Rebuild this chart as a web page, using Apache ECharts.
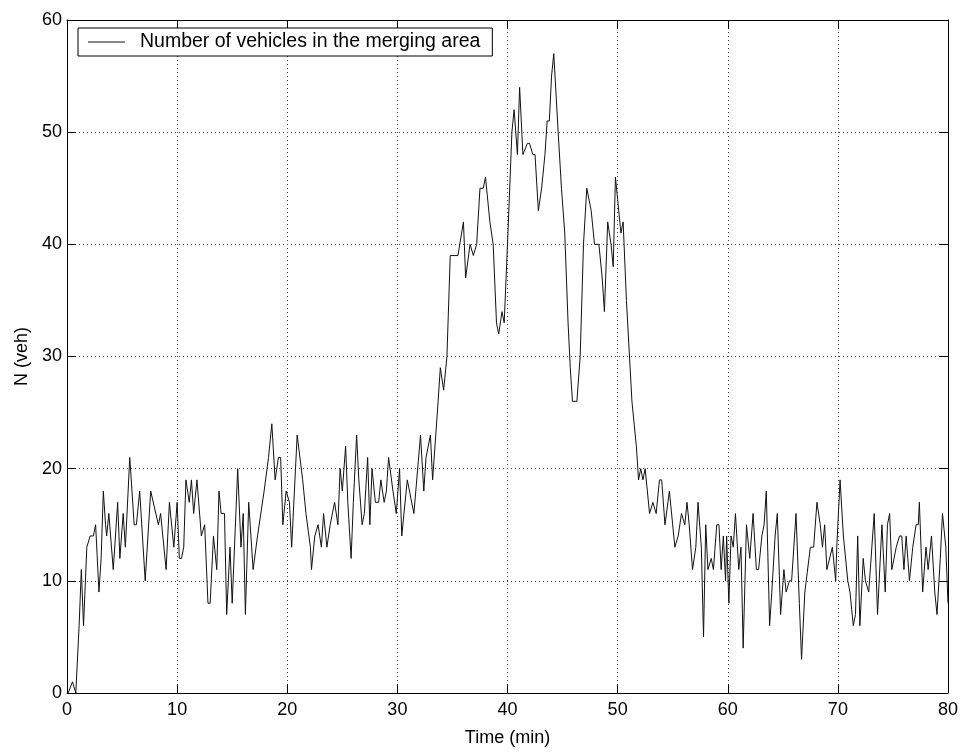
<!DOCTYPE html>
<html>
<head>
<meta charset="utf-8">
<script src="https://cdn.jsdelivr.net/npm/echarts@6/dist/echarts.min.js"></script>
<style>
  html, body { margin: 0; padding: 0; background: #fff; }
  #main { width: 963px; height: 752px; }
</style>
</head>
<body>
<div id="main"></div>
<script>
// time (min) and number of vehicles
var timeMin = [
  0.1, 0.5, 0.8, 1.1, 1.3, 1.5, 1.8, 2.1, 2.4, 2.6, 2.9, 3.1, 3.3, 3.5, 3.6, 3.8, 4.2, 4.6, 4.8, 5.1,
  5.3, 5.7, 6.1, 6.3, 6.6, 7.1, 7.6, 8.3, 8.5, 9.0, 9.3, 9.7, 10.0, 10.2, 10.4, 10.6, 10.8, 11.1, 11.3, 11.5,
  11.8, 12.2, 12.5, 12.8, 13.0, 13.3, 13.6, 13.8, 14.0, 14.3, 14.5, 14.8, 15.0, 15.5, 15.8, 16.0, 16.2, 16.5, 16.9, 17.3,
  17.9, 18.3, 18.6, 18.9, 19.2, 19.4, 19.6, 19.9, 20.2, 20.4, 20.9, 21.4, 21.7, 22.1, 22.2, 22.5, 22.8, 23.1, 23.3, 23.6,
  23.9, 24.3, 24.6, 24.8, 25.0, 25.3, 25.5, 25.8, 26.0, 26.3, 26.5, 26.8, 27.0, 27.3, 27.5, 27.7, 28.0, 28.3, 28.5, 28.8,
  29.0, 29.2, 29.6, 29.9, 30.2, 30.4, 30.9, 31.5, 32.1, 32.4, 32.6, 33.0, 33.2, 33.7, 33.9, 34.2, 34.5, 34.8, 35.5, 36.0,
  36.2, 36.6, 36.9, 37.2, 37.5, 37.8, 38.0, 38.4, 38.7, 39.0, 39.2, 39.5, 39.7, 40.0, 40.4, 40.6, 40.9, 41.1, 41.4, 41.8,
  42.0, 42.3, 42.5, 42.8, 43.1, 43.4, 43.6, 43.8, 44.0, 44.2, 44.6, 44.9, 45.2, 45.5, 45.7, 45.9, 46.3, 46.6, 46.9, 47.2,
  47.6, 47.9, 48.3, 48.6, 48.8, 49.1, 49.4, 49.6, 49.8, 50.0, 50.3, 50.5, 50.8, 51.3, 51.7, 51.9, 52.1, 52.3, 52.5, 52.9,
  53.2, 53.5, 53.8, 54.0, 54.3, 54.7, 55.2, 55.5, 55.8, 56.1, 56.3, 56.5, 56.8, 57.1, 57.3, 57.6, 57.8, 58.0, 58.2, 58.5,
  58.7, 59.0, 59.2, 59.4, 59.6, 59.8, 59.9, 60.1, 60.3, 60.5, 60.7, 61.0, 61.2, 61.4, 61.7, 62.0, 62.3, 62.6, 62.8, 63.1,
  63.3, 63.5, 63.8, 64.0, 64.3, 64.5, 64.8, 65.1, 65.3, 65.6, 65.8, 66.2, 66.5, 66.7, 67.0, 67.5, 67.8, 68.1, 68.4, 68.6,
  68.8, 69.0, 69.5, 69.8, 69.9, 70.2, 70.5, 70.9, 71.1, 71.4, 71.6, 71.8, 72.0, 72.3, 72.5, 72.8, 73.3, 73.6, 74.0, 74.3,
  74.5, 74.7, 74.9, 75.3, 75.6, 75.8, 76.0, 76.2, 76.5, 76.8, 77.1, 77.3, 77.4, 77.7, 78.0, 78.2, 78.5, 78.8, 79.0, 79.3,
  79.5, 79.8, 80.0
];
var vehicles = [
  0, 1, 0, 6, 11, 6, 13, 14, 14, 15, 9, 12, 18, 15, 14, 16, 11, 17, 12, 16,
  13, 21, 15, 15, 18, 10, 18, 15, 16, 11, 17, 13, 17, 12, 12, 13, 19, 17, 19, 16,
  19, 14, 15, 8, 8, 14, 11, 18, 16, 16, 7, 13, 8, 20, 13, 16, 7, 17, 11, 14,
  18, 21, 24, 19, 21, 21, 15, 18, 17, 13, 23, 19, 16, 13, 11, 14, 15, 13, 16, 13,
  15, 17, 15, 20, 18, 22, 17, 12, 17, 23, 19, 15, 16, 21, 15, 20, 17, 17, 19, 17,
  18, 21, 18, 16, 20, 14, 19, 16, 23, 18, 21, 23, 19, 26, 29, 27, 30, 39, 39, 42,
  37, 40, 39, 40, 45, 45, 46, 42, 40, 33, 32, 34, 33, 40, 50, 52, 48, 54, 48, 49,
  49, 48, 48, 43, 45, 48, 51, 51, 55, 57, 50, 45, 41, 33, 29, 26, 26, 30, 40, 45,
  43, 40, 40, 37, 34, 42, 40, 38, 46, 44, 41, 42, 35, 26, 22, 19, 20, 19, 20, 16,
  17, 16, 19, 19, 15, 18, 13, 14, 16, 15, 17, 15, 11, 13, 17, 13, 5, 15, 11, 12,
  11, 15, 15, 11, 14, 10, 14, 8, 14, 13, 16, 11, 13, 4, 15, 12, 16, 11, 11, 14,
  15, 18, 6, 9, 14, 16, 7, 11, 9, 10, 10, 16, 8, 3, 9, 13, 13, 17, 15, 13,
  15, 11, 13, 10, 13, 19, 14, 10, 9, 6, 7, 14, 6, 12, 10, 9, 16, 7, 15, 9,
  15, 16, 11, 13, 14, 14, 11, 14, 10, 13, 15, 15, 17, 9, 13, 11, 14, 9, 7, 12,
  16, 13, 8
];
var xTicks = [0, 10, 20, 30, 40, 50, 60, 70, 80];
var yTicks = [0, 10, 20, 30, 40, 50, 60];

var seriesData = timeMin.map(function (t, i) { return [t, vehicles[i]]; });

var font = 'Liberation Sans, Arial, sans-serif';
var chart = echarts.init(document.getElementById('main'), null, { renderer: 'canvas' });

function inAxis(pos, vals, showLabel, margin) {
  return {
    type: 'value',
    position: pos,
    min: vals[0],
    max: vals[vals.length - 1],
    interval: vals[1] - vals[0],
    axisLine: { show: true, onZero: false, lineStyle: { color: '#000', width: 1 } },
    axisTick: { show: true, inside: true, length: 9, lineStyle: { color: '#000' } },
    axisLabel: { show: showLabel, color: '#000', fontSize: 18, fontFamily: font, margin: margin },
    splitLine: { show: false }
  };
}

var xMain = inAxis('bottom', xTicks, true, 8);
xMain.splitLine = { show: true, lineStyle: { color: '#444', type: [1, 3], width: 1 } };
xMain.name = 'Time (min)';
xMain.nameLocation = 'middle';
xMain.nameGap = 36;
xMain.nameTextStyle = { color: '#000', fontSize: 18, fontFamily: font };
var xTop = inAxis('top', xTicks, false, 8);

var yMain = inAxis('left', yTicks, true, 5);
yMain.splitLine = { show: true, lineStyle: { color: '#444', type: [1, 3], width: 1 } };
yMain.name = 'N (veh)';
yMain.nameLocation = 'middle';
yMain.nameGap = 36;
yMain.nameTextStyle = { color: '#000', fontSize: 18, fontFamily: font };
var yRight = inAxis('right', yTicks, false, 5);

chart.setOption({
  backgroundColor: '#fff',
  animation: false,
  grid: { left: 67, right: 15, top: 20, bottom: 57, containLabel: false },
  legend: {
    left: 78,
    top: 28,
    orient: 'vertical',
    backgroundColor: '#fff',
    borderColor: '#000',
    borderWidth: 1,
    padding: [4, 12, 4, 10],
    itemGap: 0,
    itemWidth: 37,
    itemHeight: 1,
    icon: 'rect',
    textStyle: { color: '#000', fontSize: 19.5, fontFamily: font, padding: [0, 0, 0, 10] },
    data: ['Number of vehicles in the merging area']
  },
  xAxis: [xMain, xTop],
  yAxis: [yMain, yRight],
  series: [{
    name: 'Number of vehicles in the merging area',
    type: 'line',
    xAxisIndex: 0,
    yAxisIndex: 0,
    data: seriesData,
    showSymbol: false,
    symbol: 'none',
    color: '#111',
    lineStyle: { color: '#111', width: 1 }
  }]
});
</script>
</body>
</html>
